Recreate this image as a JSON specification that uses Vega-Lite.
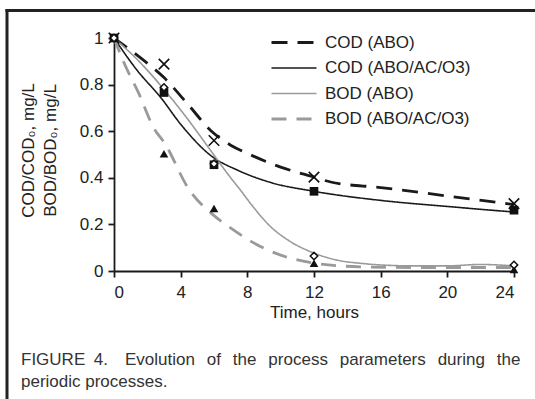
{
  "$schema": "https://vega.github.io/schema/vega-lite/v6.json",
  "autosize": "none",
  "width": 400,
  "height": 233,
  "padding": {"left": 114, "top": 38, "right": 21, "bottom": 128},
  "background": "white",
  "title": {
    "text": ["FIGURE\u20024.\u2002\u2002Evolution\u2002\u2009of\u2002\u2009the\u2002\u2009process\u2002\u2009parameters\u2002\u2009during\u2002\u2009the", "periodic processes."],
    "orient": "bottom",
    "anchor": "start",
    "frame": "group",
    "dx": -93,
    "offset": -49,
    "font": "Liberation Sans",
    "fontSize": 17,
    "fontWeight": "normal",
    "color": "#333333",
    "lineHeight": 22
  },
  "datasets": {
    "curves": [
      {"s": "COD (ABO)", "t": 0, "v": 1}, {"s": "COD (ABO)", "t": 1.5, "v": 0.92}, {"s": "COD (ABO)", "t": 3, "v": 0.83}, {"s": "COD (ABO)", "t": 4.5, "v": 0.71}, {"s": "COD (ABO)", "t": 5.8, "v": 0.603}, {"s": "COD (ABO)", "t": 7, "v": 0.54}, {"s": "COD (ABO)", "t": 8, "v": 0.505}, {"s": "COD (ABO)", "t": 10, "v": 0.446}, {"s": "COD (ABO)", "t": 12, "v": 0.403}, {"s": "COD (ABO)", "t": 13, "v": 0.382}, {"s": "COD (ABO)", "t": 16, "v": 0.358}, {"s": "COD (ABO)", "t": 20, "v": 0.322}, {"s": "COD (ABO)", "t": 24, "v": 0.285},
      {"s": "COD (ABO/AC/O3)", "t": 0, "v": 1}, {"s": "COD (ABO/AC/O3)", "t": 1.4, "v": 0.86}, {"s": "COD (ABO/AC/O3)", "t": 2.8, "v": 0.745}, {"s": "COD (ABO/AC/O3)", "t": 4, "v": 0.63}, {"s": "COD (ABO/AC/O3)", "t": 5.8, "v": 0.496}, {"s": "COD (ABO/AC/O3)", "t": 7.5, "v": 0.43}, {"s": "COD (ABO/AC/O3)", "t": 9.4, "v": 0.38}, {"s": "COD (ABO/AC/O3)", "t": 12, "v": 0.342}, {"s": "COD (ABO/AC/O3)", "t": 16, "v": 0.303}, {"s": "COD (ABO/AC/O3)", "t": 20, "v": 0.277}, {"s": "COD (ABO/AC/O3)", "t": 24, "v": 0.253},
      {"s": "BOD (ABO)", "t": 0, "v": 1}, {"s": "BOD (ABO)", "t": 1.5, "v": 0.9}, {"s": "BOD (ABO)", "t": 2.9, "v": 0.788}, {"s": "BOD (ABO)", "t": 4.4, "v": 0.654}, {"s": "BOD (ABO)", "t": 5.8, "v": 0.517}, {"s": "BOD (ABO)", "t": 7, "v": 0.4}, {"s": "BOD (ABO)", "t": 7.6, "v": 0.346}, {"s": "BOD (ABO)", "t": 8.2, "v": 0.289}, {"s": "BOD (ABO)", "t": 9.4, "v": 0.19}, {"s": "BOD (ABO)", "t": 10.5, "v": 0.13}, {"s": "BOD (ABO)", "t": 12, "v": 0.077}, {"s": "BOD (ABO)", "t": 13.5, "v": 0.045}, {"s": "BOD (ABO)", "t": 14.8, "v": 0.033}, {"s": "BOD (ABO)", "t": 16, "v": 0.026}, {"s": "BOD (ABO)", "t": 18, "v": 0.022}, {"s": "BOD (ABO)", "t": 20, "v": 0.022}, {"s": "BOD (ABO)", "t": 22, "v": 0.028}, {"s": "BOD (ABO)", "t": 24, "v": 0.022},
      {"s": "BOD (ABO/AC/O3)", "t": 0, "v": 1}, {"s": "BOD (ABO/AC/O3)", "t": 0.56, "v": 0.9}, {"s": "BOD (ABO/AC/O3)", "t": 1.5, "v": 0.76}, {"s": "BOD (ABO/AC/O3)", "t": 2.36, "v": 0.617}, {"s": "BOD (ABO/AC/O3)", "t": 3.06, "v": 0.546}, {"s": "BOD (ABO/AC/O3)", "t": 4.5, "v": 0.35}, {"s": "BOD (ABO/AC/O3)", "t": 5.9, "v": 0.244}, {"s": "BOD (ABO/AC/O3)", "t": 7.1, "v": 0.18}, {"s": "BOD (ABO/AC/O3)", "t": 8.3, "v": 0.124}, {"s": "BOD (ABO/AC/O3)", "t": 10, "v": 0.068}, {"s": "BOD (ABO/AC/O3)", "t": 12, "v": 0.034}, {"s": "BOD (ABO/AC/O3)", "t": 14.8, "v": 0.018}, {"s": "BOD (ABO/AC/O3)", "t": 18, "v": 0.015}, {"s": "BOD (ABO/AC/O3)", "t": 24, "v": 0.015}
    ],
    "obs": [
      {"s": "COD (ABO)", "t": 0, "v": 1}, {"s": "COD (ABO)", "t": 3, "v": 0.888}, {"s": "COD (ABO)", "t": 6, "v": 0.56}, {"s": "COD (ABO)", "t": 12, "v": 0.403}, {"s": "COD (ABO)", "t": 24, "v": 0.289},
      {"s": "COD (ABO/AC/O3)", "t": 0, "v": 1}, {"s": "COD (ABO/AC/O3)", "t": 3, "v": 0.766}, {"s": "COD (ABO/AC/O3)", "t": 6, "v": 0.456}, {"s": "COD (ABO/AC/O3)", "t": 12, "v": 0.342}, {"s": "COD (ABO/AC/O3)", "t": 24, "v": 0.261},
      {"s": "BOD (ABO)", "t": 0, "v": 1}, {"s": "BOD (ABO)", "t": 3, "v": 0.788}, {"s": "BOD (ABO)", "t": 6, "v": 0.46}, {"s": "BOD (ABO)", "t": 12, "v": 0.064}, {"s": "BOD (ABO)", "t": 24, "v": 0.026},
      {"s": "BOD (ABO/AC/O3)", "t": 0, "v": 1}, {"s": "BOD (ABO/AC/O3)", "t": 3, "v": 0.503}, {"s": "BOD (ABO/AC/O3)", "t": 6, "v": 0.268}, {"s": "BOD (ABO/AC/O3)", "t": 12, "v": 0.033}, {"s": "BOD (ABO/AC/O3)", "t": 24, "v": 0.006}
    ]
  },
  "layer": [
    {
      "data": {"values": [{}]},
      "mark": {"type": "rule", "color": "#222222", "strokeWidth": 3, "strokeCap": "butt", "clip": false},
      "encoding": {
        "x": {"datum": -6.51, "type": "quantitative", "scale": {"domain": [0, 24], "nice": false}},
        "x2": {"datum": 26},
        "y": {"datum": 1.118, "type": "quantitative", "scale": {"domain": [0, 1], "nice": false}}
      }
    },
    {
      "data": {"values": [{}]},
      "mark": {"type": "rule", "color": "#222222", "strokeWidth": 3, "strokeCap": "butt", "clip": false},
      "encoding": {
        "x": {"datum": -6.42, "type": "quantitative", "scale": {"domain": [0, 24], "nice": false}},
        "y": {"datum": 1.124, "type": "quantitative", "scale": {"domain": [0, 1], "nice": false}},
        "y2": {"datum": -0.5494}
      }
    },
    {
      "data": {"name": "curves"},
      "mark": {"type": "line", "interpolate": "monotone", "strokeCap": "butt"},
      "encoding": {
        "x": {
          "field": "t", "type": "quantitative",
          "scale": {"domain": [0, 24], "nice": false},
          "axis": {"values": [0, 4, 8, 12, 16, 20, 24], "title": "Time, hours", "titlePadding": 4}
        },
        "y": {
          "field": "v", "type": "quantitative",
          "scale": {"domain": [0, 1], "nice": false},
          "axis": {"values": [0, 0.2, 0.4, 0.6, 0.8, 1], "format": "~g", "title": ["COD/COD₀, mg/L", "BOD/BOD₀, mg/L"], "titlePadding": 20, "titleLineHeight": 22, "titleY": 112}
        },
        "color": {
          "field": "s", "type": "nominal", "title": null,
          "scale": {"domain": ["COD (ABO)", "COD (ABO/AC/O3)", "BOD (ABO)", "BOD (ABO/AC/O3)"], "range": ["#1a1a1a", "#1a1a1a", "#9a9a9a", "#9a9a9a"]}
        },
        "strokeDash": {
          "field": "s", "type": "nominal", "title": null,
          "scale": {"domain": ["COD (ABO)", "COD (ABO/AC/O3)", "BOD (ABO)", "BOD (ABO/AC/O3)"], "range": [[16, 10], [1, 0], [1, 0], [15, 10]]}
        },
        "strokeWidth": {
          "field": "s", "type": "nominal", "title": null,
          "scale": {"type": "ordinal", "domain": ["COD (ABO)", "COD (ABO/AC/O3)", "BOD (ABO)", "BOD (ABO/AC/O3)"], "range": [2.8, 1.6, 1.6, 2.8]}
        }
      }
    },
    {
      "data": {"name": "obs"},
      "transform": [{"filter": "datum.s === 'COD (ABO)'"}],
      "mark": {"type": "point", "shape": "M-1,-1L1,1M1,-1L-1,1", "size": 110, "filled": false, "color": "#111111", "strokeWidth": 1.6, "opacity": 1},
      "encoding": {
        "x": {"field": "t", "type": "quantitative", "scale": {"domain": [0, 24], "nice": false}},
        "y": {"field": "v", "type": "quantitative", "scale": {"domain": [0, 1], "nice": false}}
      }
    },
    {
      "data": {"name": "obs"},
      "transform": [{"filter": "datum.s === 'COD (ABO/AC/O3)'"}],
      "mark": {"type": "point", "shape": "square", "size": 75, "filled": true, "color": "#111111", "opacity": 1},
      "encoding": {
        "x": {"field": "t", "type": "quantitative", "scale": {"domain": [0, 24], "nice": false}},
        "y": {"field": "v", "type": "quantitative", "scale": {"domain": [0, 1], "nice": false}}
      }
    },
    {
      "data": {"name": "obs"},
      "transform": [{"filter": "datum.s === 'BOD (ABO/AC/O3)'"}],
      "mark": {"type": "point", "shape": "triangle-up", "size": 75, "filled": true, "color": "#111111", "opacity": 1},
      "encoding": {
        "x": {"field": "t", "type": "quantitative", "scale": {"domain": [0, 24], "nice": false}},
        "y": {"field": "v", "type": "quantitative", "scale": {"domain": [0, 1], "nice": false}}
      }
    },
    {
      "data": {"name": "obs"},
      "transform": [{"filter": "datum.s === 'BOD (ABO)'"}],
      "mark": {"type": "point", "shape": "diamond", "size": 55, "filled": true, "fill": "white", "stroke": "#111111", "strokeWidth": 1.5, "opacity": 1},
      "encoding": {
        "x": {"field": "t", "type": "quantitative", "scale": {"domain": [0, 24], "nice": false}},
        "y": {"field": "v", "type": "quantitative", "scale": {"domain": [0, 1], "nice": false}}
      }
    }
  ],
  "config": {
    "font": "Liberation Sans",
    "view": {"stroke": null},
    "axis": {
      "grid": false,
      "domainColor": "#1a1a1a",
      "domainWidth": 1.8,
      "tickColor": "#1a1a1a",
      "tickWidth": 1.8,
      "tickSize": 6,
      "labelFont": "Liberation Sans",
      "labelFontSize": 17,
      "labelColor": "#222222",
      "labelPadding": 5,
      "titleFont": "Liberation Sans",
      "titleFontSize": 17,
      "titleFontWeight": "normal",
      "titleColor": "#222222"
    },
    "axisX": {"labelPadding": 7},
    "legend": {
      "orient": "none",
      "legendX": 156,
      "legendY": -4,
      "symbolType": "stroke",
      "symbolSize": 2025,
      "clipHeight": 17,
      "rowPadding": 7.5,
      "labelOffset": 7,
      "labelFont": "Liberation Sans",
      "labelFontSize": 17,
      "labelColor": "#222222",
      "labelLimit": 300,
      "padding": 0
    }
  }
}
